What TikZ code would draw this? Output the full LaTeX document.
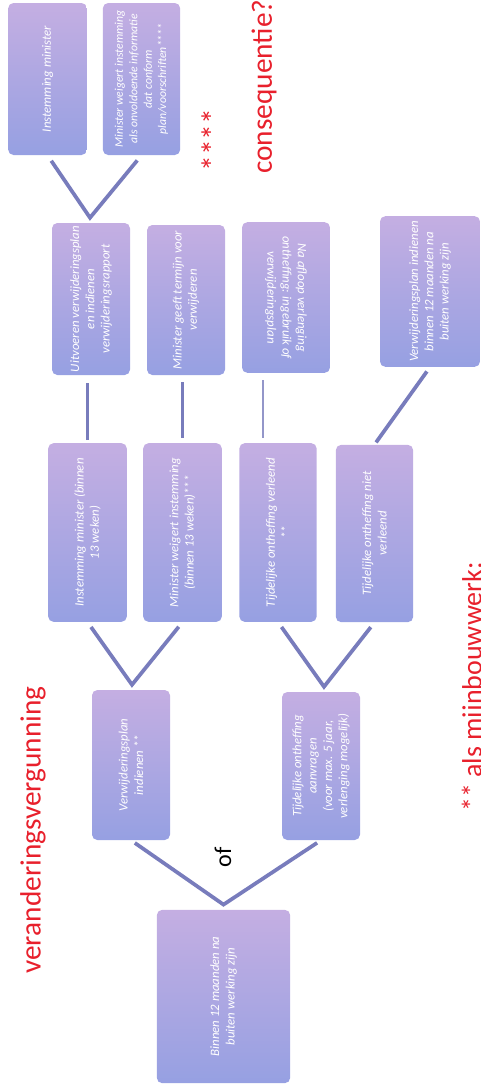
\documentclass[tikz,border=0pt]{standalone}
\usepackage{fontspec}
\setmainfont{Carlito}
\usetikzlibrary{calc}

\definecolor{boxblue}{RGB}{150,160,226}
\definecolor{boxpink}{RGB}{234,186,226}
\definecolor{linkcol}{RGB}{120,124,188}
\definecolor{notered}{RGB}{232,32,44}

\tikzset{
    stepbox/.style={rotate=90, rounded corners=4pt, top color=boxblue!45!boxpink, middle color=boxpink, bottom color=boxblue,
        text=white, font=\fontsize{9.6}{11.5}\selectfont\itshape, align=center, inner sep=2pt},
    link/.style={draw=linkcol, line width=2.8pt, line join=miter},
    thinlink/.style={draw=linkcol!80, line width=1.4pt},
    note/.style={rotate=90, text=notered, inner sep=0pt, font=\fontsize{22}{24}\selectfont}
}

\begin{document}
\begin{tikzpicture}[x=0.75pt,y=0.75pt,yscale=-1,xscale=1]
    \useasboundingbox (0,0) rectangle (480,1092);
    \clip (0,0) rectangle (480,1092);

    % Boxes, top row
    \node [stepbox, minimum width=114pt, minimum height=59pt] (A1) at (47.5,79) {Instemming minister};
    \node [stepbox, minimum width=114pt, minimum height=58pt, font=\fontsize{8.8}{10.8}\selectfont\itshape] (A2) at (141.5,79) {Minister weigert instemming\\als onvoldoende informatie\\dat conform\\plan/voorschriften****};
    % Boxes, second row
    \node [stepbox, minimum width=114pt, minimum height=58.5pt] (B1) at (91,299) {Uitvoeren verwijderingsplan\\en indienen\\verwijderingsrapport};
    \node [stepbox, minimum width=112.5pt, minimum height=58.5pt] (B2) at (186,300) {Minister geeft termijn voor\\verwijderen};
    \node [stepbox, rotate=180, minimum width=113pt, minimum height=66pt] (B3) at (286,297.5) {Na afloop verlenging\\ontheffing: ingebruik of\\verwijderingsplan};
    \node [stepbox, minimum width=113pt, minimum height=75pt] (B4) at (430,291.5) {Verwijderingsplan indienen\\binnen 12 maanden na\\buiten werking zijn};
    % Boxes, third row
    \node [stepbox, minimum width=134pt, minimum height=59pt] (C1) at (87.5,532.5) {Instemming minister (binnen\\13 weken)};
    \node [stepbox, minimum width=134pt, minimum height=59pt] (C2) at (182.5,532.5) {Minister weigert instemming\\(binnen 13 weken)***};
    \node [stepbox, minimum width=134pt, minimum height=58pt] (C3) at (278,532.5) {Tijdelijke ontheffing verleend\\**};
    \node [stepbox, minimum width=133pt, minimum height=58pt] (C4) at (374.5,533.5) {Tijdelijke ontheffing niet\\verleend};
    % Boxes, fourth row
    \node [stepbox, minimum width=112.5pt, minimum height=58.5pt] (D1) at (131,765) {Verwijderingsplan\\indienen **};
    \node [stepbox, minimum width=111pt, minimum height=58.5pt] (D2) at (321,766) {Tijdelijke ontheffing\\aanvragen\\(voor max. 5 jaar,\\verlenging mogelijk)};
    % Start box
    \node [stepbox, minimum width=130pt, minimum height=100pt] (E) at (223.5,996.5) {Binnen 12 maanden na\\buiten werking zijn};

    % V joints
    \coordinate (vE) at ($(E.east)+(0,-5)$);
    \coordinate (vD1) at ($(D1.east)+(1,-5)$);
    \coordinate (vD2) at ($(D2.east)+(3,-5)$);
    \coordinate (vB1) at ($(B1.east)+(-1,-5)$);

    % Connectors
    \draw [link, shorten <=3.5pt, shorten >=3.5pt] (D1.west) -- (vE) -- (D2.west);
    \draw [link, shorten <=4.5pt, shorten >=4.5pt] (C1.west) -- (vD1) -- (C2.west);
    \draw [link, shorten <=4.5pt, shorten >=4.5pt] (C3.west) -- (vD2) -- (C4.west);
    \draw [link, shorten <=5pt, shorten >=5pt] (A1.west) -- (vB1) -- (A2.west);
    \draw [link, shorten <=2pt, shorten >=6pt] (C1.east) -- (C1.east |- B1.west);
    \draw [link, shorten <=4pt, shorten >=5pt] (C2.east) -- (C2.east |- B2.west);
    \draw [thinlink, shorten <=4pt, shorten >=5pt] ([xshift=-11pt]C3.east) -- ([xshift=-11pt]C3.east |- B3.east);
    \draw [link, shorten <=2pt, shorten >=4pt] (C4.east) -- (B4.west);

    % Notes
    \node [note] (vergunning) at (33,830) {veranderingsvergunning};
    \node [note, anchor=west] (consequentie) at (264,174) {consequentie?};
    \node [note, font=\fontsize{24}{26}\selectfont] (sterren) at (213,140) {****};
    \node [note, anchor=west, font=\fontsize{21}{24}\selectfont] (mijnbouw) at (474,812) {** als mijnbouwwerk:};
    \node [rotate=90, inner sep=0pt, font=\fontsize{18}{20}\selectfont] (of) at (223,857) {of};
\end{tikzpicture}
\end{document}
